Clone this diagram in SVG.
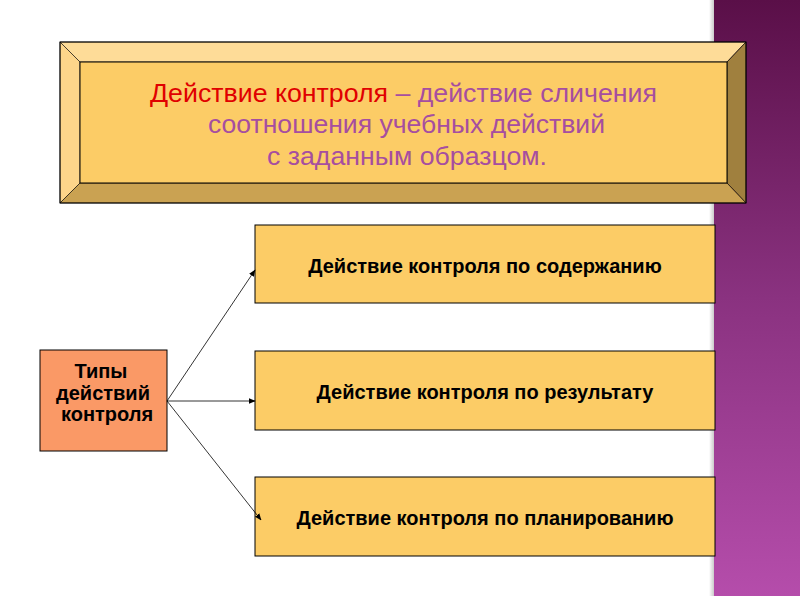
<svg xmlns="http://www.w3.org/2000/svg" width="800" height="600" viewBox="0 0 800 600">
<defs>
<linearGradient id="band" x1="0" y1="0" x2="0" y2="1">
<stop offset="0" stop-color="#5a0f48"/>
<stop offset="0.5" stop-color="#8a3280"/>
<stop offset="1" stop-color="#b54dab"/>
</linearGradient>
<linearGradient id="shadow" x1="0" y1="0" x2="1" y2="0">
<stop offset="0" stop-color="#000" stop-opacity="0"/>
<stop offset="1" stop-color="#000" stop-opacity="0.25"/>
</linearGradient>
<marker id="arr" viewBox="0 0 10 10" refX="9" refY="5" markerWidth="7" markerHeight="7" orient="auto" markerUnits="userSpaceOnUse">
<path d="M0,1 L10,5 L0,9 z" fill="#000"/>
</marker>
<style>
.box{fill:#fccc66;stroke:#000;stroke-width:1}
.bt{font-family:"Liberation Sans",Arial,sans-serif;font-weight:bold;font-size:20px;fill:#000;text-anchor:middle}
.tt{font-family:"Liberation Sans",Arial,sans-serif;font-size:26px;fill:#a64ea0}
.conn{stroke:#000;stroke-width:0.8;fill:none}
</style>
</defs>
<rect width="800" height="600" fill="#fff"/>
<rect x="709" y="0" width="6" height="596" fill="url(#shadow)"/>
<rect x="714" y="0" width="86" height="596" fill="url(#band)"/>
<g id="title">
<polygon points="60,42 746,42 727,62 80,62" fill="#fedc98" stroke="#000" stroke-width="0.6"/>
<polygon points="60,42 80,62 80,183 60,203" fill="#fdd58a" stroke="#000" stroke-width="0.6"/>
<polygon points="746,42 746,203 727,183 727,62" fill="#a0803e" stroke="#000" stroke-width="0.6"/>
<polygon points="60,203 80,183 727,183 746,203" fill="#caa252" stroke="#000" stroke-width="0.6"/>
<rect x="80" y="62" width="647" height="121" fill="#fccc66" stroke="#000" stroke-width="1"/>
<rect x="60" y="42" width="686" height="161" fill="none" stroke="#000" stroke-width="1"/>
<text class="tt" x="150" y="102" textLength="507" lengthAdjust="spacingAndGlyphs"><tspan fill="#e00000">Действие контроля</tspan> – действие сличения</text>
<text class="tt" x="208" y="133" textLength="397" lengthAdjust="spacingAndGlyphs">соотношения учебных действий</text>
<text class="tt" x="267" y="165" textLength="280" lengthAdjust="spacingAndGlyphs">с заданным образцом.</text>
</g>
<g id="types">
<rect x="40" y="350" width="127" height="101" fill="#fa9966" stroke="#000" stroke-width="1"/>
<text class="bt" x="101" y="378">Типы</text>
<text class="bt" x="103" y="400">действий</text>
<text class="bt" x="107" y="421">контроля</text>
</g>
<g id="content">
<rect class="box" x="255" y="225" width="460" height="78"/>
<text class="bt" x="485" y="273">Действие контроля по содержанию</text>
</g>
<g id="result">
<rect class="box" x="255" y="351" width="460" height="79"/>
<text class="bt" x="485" y="399">Действие контроля по результату</text>
</g>
<g id="planning">
<rect class="box" x="255" y="477" width="460" height="79"/>
<text class="bt" x="485" y="525">Действие контроля по планированию</text>
</g>
<g id="connectors">
<line class="conn" x1="167" y1="401" x2="255" y2="270" marker-end="url(#arr)"/>
<line class="conn" x1="167" y1="401" x2="255" y2="401" marker-end="url(#arr)"/>
<line class="conn" x1="167" y1="401" x2="261" y2="520" marker-end="url(#arr)"/>
</g>
</svg>
